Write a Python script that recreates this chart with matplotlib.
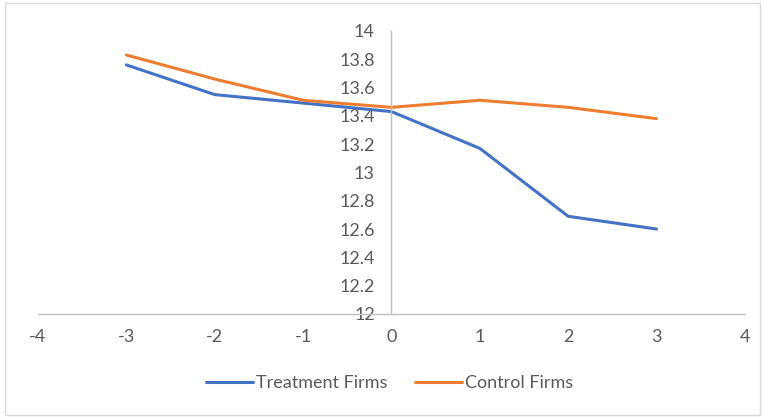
import matplotlib.pyplot as plt
from matplotlib.patches import Rectangle

# Event time relative to treatment
years = [-3, -2, -1, 0, 1, 2, 3]
treatment = [13.76, 13.55, 13.49, 13.43, 13.17, 12.69, 12.60]
control = [13.83, 13.66, 13.51, 13.46, 13.51, 13.46, 13.38]

x_ticks = [-4, -3, -2, -1, 0, 1, 2, 3, 4]
y_ticks = [12, 12.2, 12.4, 12.6, 12.8, 13, 13.2, 13.4, 13.6, 13.8, 14]

plt.rcParams['font.family'] = ['Lato', 'DejaVu Sans']
text_color = '#595959'
axis_color = '#bfbfbf'

fig = plt.figure(figsize=(7.64, 4.18), dpi=100)
ax = fig.add_axes([0.0497, 0.249, 0.9253, 0.677])

ax.plot(years, treatment, color='#4472C4', lw=2.2, label='Treatment Firms', solid_capstyle='round')
ax.plot(years, control, color='#ED7D31', lw=2.2, label='Control Firms', solid_capstyle='round')

ax.set_xlim(-4, 4)
ax.set_ylim(12, 14)
ax.set_xticks(x_ticks)
ax.set_yticks(y_ticks)
ax.set_xticklabels([f'{v:g}' for v in x_ticks])
ax.set_yticklabels([f'{v:g}' for v in y_ticks])

# axes cross at the origin of event time
ax.spines['left'].set_position(('data', 0))
ax.spines['bottom'].set_position(('data', 12))
ax.spines['top'].set_visible(False)
ax.spines['right'].set_visible(False)
for s in ('left', 'bottom'):
    ax.spines[s].set_color(axis_color)
    ax.spines[s].set_linewidth(1.0)

ax.tick_params(axis='both', length=0, labelsize=13, labelcolor=text_color)
ax.tick_params(axis='x', pad=11)
ax.tick_params(axis='y', pad=12)

leg = fig.legend(loc='center', bbox_to_anchor=(0.51, 0.083), ncol=2, frameon=False,
                 fontsize=13, handlelength=2.6, handletextpad=0.2, columnspacing=1.5)
for t in leg.get_texts():
    t.set_color(text_color)

# chart area border
fig.patches.append(Rectangle((0.007, 0.008), 0.988, 0.984, transform=fig.transFigure,
                             fill=False, edgecolor='#d9d9d9', lw=1.0))

fig.savefig('out.png', dpi=100)
